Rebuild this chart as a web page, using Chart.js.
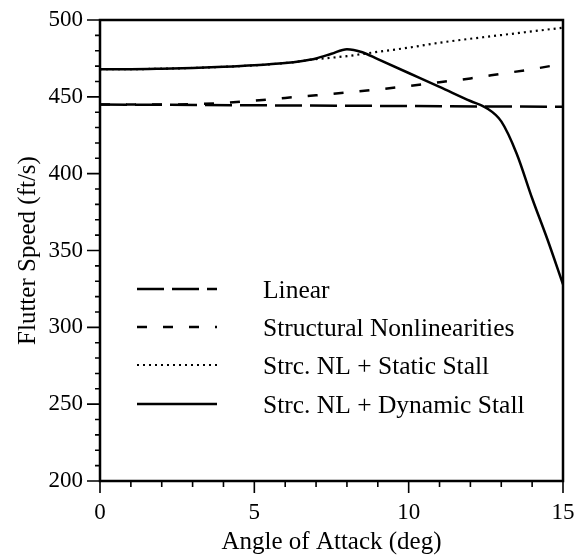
<!DOCTYPE html>
<html><head><meta charset="utf-8">
<script src="https://cdn.jsdelivr.net/npm/chart.js@4/dist/chart.umd.min.js"></script>
<style>html,body{margin:0;padding:0;background:#fff;}canvas{display:block;}</style>
</head><body>
<canvas id="c" width="578" height="557"></canvas>
<script>
// ---- data ----
const seriesNames = ['Linear', 'Structural Nonlinearities', 'Strc. NL + Static Stall', 'Strc. NL + Dynamic Stall'];

const linearX = [0, 15];
const linearY = [445, 443.5];

const structX = [0, 2, 4, 5, 6, 7, 8, 9, 10, 11, 12, 13, 14, 15];
const structY = [445, 445, 446, 447.5, 449.3, 451, 452.8, 454.8, 457, 459.5, 462, 465, 468, 471.5];

const staticX = [0, 1, 2, 3, 4, 5, 6, 7, 8, 9, 10, 11, 12, 13, 14, 15];
const staticY = [468, 468, 468.3, 468.8, 469.5, 470.5, 472, 474.5, 476.5, 479.3, 482, 485.2, 487.8, 490.2, 492.6, 495];

const dynamicX = [0, 1, 2, 3, 4, 5, 6, 6.5, 7, 7.5, 8, 8.5, 9, 10, 11, 12, 12.5, 13, 13.5, 14, 14.5, 15];
const dynamicY = [468, 468, 468.3, 468.8, 469.5, 470.5, 472, 473.2, 475, 478, 481, 479, 474.5, 465.5, 456.5, 447.3, 443, 434, 413, 384, 357, 328];

const xTickValues = [0, 5, 10, 15];
const yTickValues = [200, 250, 300, 350, 400, 450, 500];
const xTitle = 'Angle of Attack (deg)';
const yTitle = 'Flutter Speed (ft/s)';

const pts = (xs, ys) => xs.map((x, i) => ({x, y: ys[i]}));
const FONT = '"Liberation Serif", "Times New Roman", serif';

const framePlugin = {
  id: 'frame',
  afterDraw(chart) {
    const {ctx, chartArea: {left, right, top, bottom}, scales: {x, y}} = chart;
    ctx.save();
    ctx.strokeStyle = '#000';
    ctx.setLineDash([]);
    ctx.lineWidth = 2.5;
    ctx.strokeRect(left, top, right - left, bottom - top);
    ctx.lineWidth = 1.6;
    ctx.beginPath();
    for (let v = x.min; v <= x.max; v += 1) {
      const px = x.getPixelForValue(v);
      const len = v % 5 === 0 ? 12 : 6;
      ctx.moveTo(px, bottom); ctx.lineTo(px, bottom + len);
    }
    for (let v = y.min; v <= y.max; v += 10) {
      const py = y.getPixelForValue(v);
      const len = v % 50 === 0 ? 13 : 5;
      ctx.moveTo(left - len, py); ctx.lineTo(left, py);
    }
    ctx.stroke();
    // legend inside the plot
    const rows = [289, 327, 365, 404];
    const lx0 = 137, lx1 = 217, tx = 263;
    ctx.font = '25.5px ' + FONT;
    ctx.fillStyle = '#000';
    ctx.textBaseline = 'middle';
    ctx.textAlign = 'left';
    seriesNames.forEach((name, i) => {
      const ds = chart.data.datasets.find(d => d.label === name);
      ctx.lineWidth = ds.borderWidth;
      ctx.setLineDash(ds.borderDash || []);
      ctx.lineCap = 'butt';
      ctx.beginPath();
      ctx.moveTo(lx0, rows[i]); ctx.lineTo(lx1, rows[i]);
      ctx.stroke();
      ctx.fillText(name, tx, rows[i] + 2);
    });
    ctx.restore();
  }
};

const noPad = s => { s.paddingTop = 0; s.paddingBottom = 0; s.paddingLeft = 0; s.paddingRight = 0; };

new Chart(document.getElementById('c'), {
  type: 'line',
  data: {
    datasets: [
      {label: seriesNames[0], data: pts(linearX, linearY), borderColor: '#000', borderWidth: 2.5, borderDash: [27, 8], pointRadius: 0, order: 2},
      {label: seriesNames[1], data: pts(structX, structY), borderColor: '#000', borderWidth: 2.5, borderDash: [10, 16], pointRadius: 0, cubicInterpolationMode: 'monotone', order: 2},
      {label: seriesNames[2], data: pts(staticX, staticY), borderColor: '#000', borderWidth: 2.2, borderDash: [2, 4], pointRadius: 0, cubicInterpolationMode: 'monotone', order: 3},
      {label: seriesNames[3], data: pts(dynamicX, dynamicY), borderColor: '#000', borderWidth: 2.5, pointRadius: 0, cubicInterpolationMode: 'monotone', order: 0}
    ]
  },
  options: {
    responsive: false,
    animation: false,
    events: [],
    layout: {padding: {top: 20, right: 15, left: 0, bottom: 0}},
    plugins: {legend: {display: false}, tooltip: {enabled: false}},
    scales: {
      x: {
        type: 'linear', min: 0, max: 15,
        afterBuildTicks: s => { s.ticks = xTickValues.map(v => ({value: v})); },
        afterFit: s => { s.height = 76; noPad(s); },
        grid: {display: false, drawTicks: false},
        border: {display: false},
        ticks: {color: '#000', font: {family: FONT, size: 23}, padding: 18, maxRotation: 0, autoSkip: false},
        title: {display: true, text: xTitle, color: '#000', font: {family: FONT, size: 25}, padding: {top: 0, bottom: 0}}
      },
      y: {
        type: 'linear', min: 200, max: 500,
        afterBuildTicks: s => { s.ticks = yTickValues.map(v => ({value: v})); },
        afterFit: s => { s.width = 100; noPad(s); },
        grid: {display: false, drawTicks: false},
        border: {display: false},
        ticks: {color: '#000', font: {family: FONT, size: 23}, padding: 17, autoSkip: false},
        title: {display: true, text: yTitle, color: '#000', font: {family: FONT, size: 25}, padding: {top: 13, bottom: 0}}
      }
    }
  },
  plugins: [framePlugin]
});
</script>
</body></html>
